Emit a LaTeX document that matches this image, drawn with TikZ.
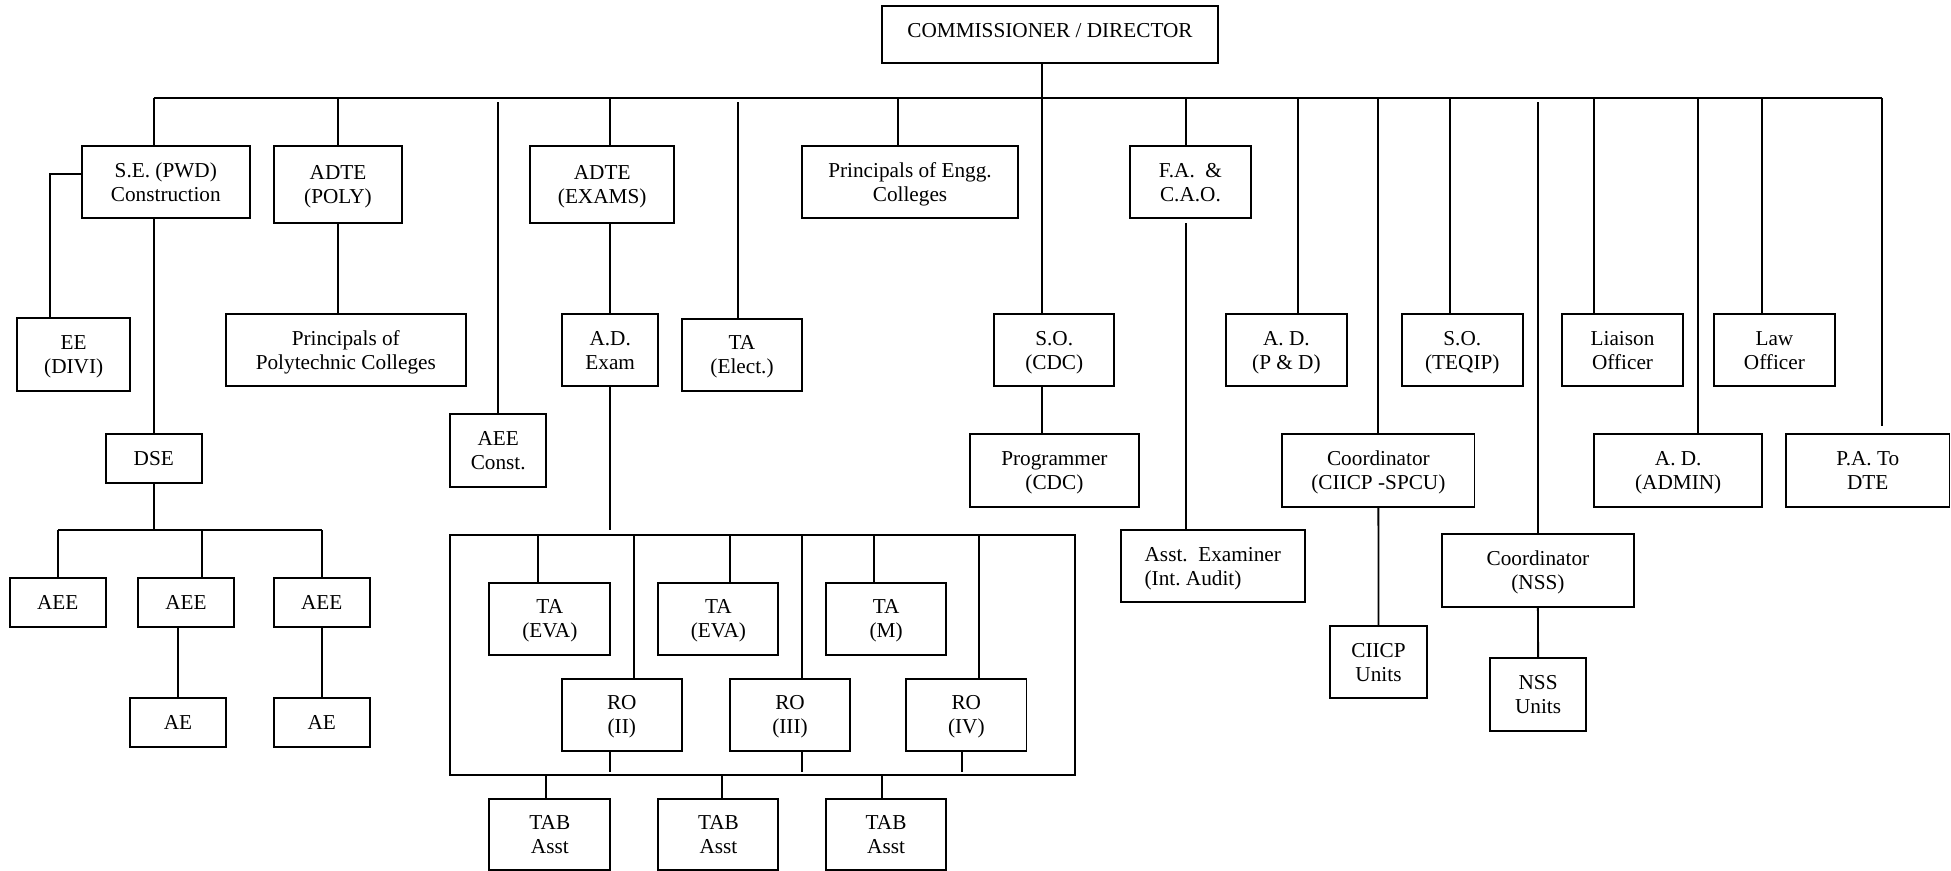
\documentclass[tikz,border=0pt]{standalone}
\usepackage{fontspec}
\setmainfont{Liberation Serif}

\tikzset{every picture/.style={line width=0.9pt}}
\tikzset{
  unitbox/.style={draw, line width=0.9pt, align=center, inner sep=0pt, text depth=0pt,
    font=\fontsize{10.2}{11.6}\selectfont},
  wh/.style 2 args={minimum width=#1*0.48pt, minimum height=#2*0.48pt},
  gapstart/.style={shorten <=1.9pt},
}

\begin{document}
\begin{tikzpicture}[x=0.48pt,y=0.48pt,yscale=-1,xscale=1]
\useasboundingbox (0,0) rectangle (1951,871);

% Head
\node[unitbox, wh={336.6}{57.3}, text depth=4.5pt] (comm) at (1050,34.7) {COMMISSIONER / DIRECTOR};

% First row
\node[unitbox, wh={168.3}{72.3}] (se) at (165.8,182.2) {S.E. (PWD)\\Construction};
\node[unitbox, wh={128.6}{76.7}] (poly) at (338,184.3) {ADTE\\(POLY)};
\node[unitbox, wh={144.3}{76.7}] (exams) at (602.2,184.3) {ADTE\\(EXAMS)};
\node[unitbox, wh={216.6}{72.3}] (pengg) at (910,182.2) {Principals of Engg.\\Colleges};
\node[unitbox, wh={120.7}{72.3}] (fa) at (1190.4,182.2) {F.A.\ \ \&\\C.A.O.};

% Second row
\node[unitbox, wh={112.7}{72.4}] (ee) at (73.7,354.5) {EE\\(DIVI)};
\node[unitbox, wh={240.3}{71.7}] (ppoly) at (345.8,350.2) {Principals of\\Polytechnic Colleges};
\node[unitbox, wh={96.3}{71.7}] (adexam) at (610.2,350.2) {A.D.\\Exam};
\node[unitbox, wh={120.6}{72}] (taelect) at (742,354.7) {TA\\(Elect.)};
\node[unitbox, wh={120.3}{71.7}] (socdc) at (1054.2,350.2) {S.O.\\(CDC)};
\node[unitbox, wh={120.7}{71.7}] (adpd) at (1286.4,350.2) {A. D.\\(P \& D)};
\node[unitbox, wh={120.8}{71.7}] (teqip) at (1462.3,350.2) {S.O.\\(TEQIP)};
\node[unitbox, wh={120.4}{71.7}] (liaison) at (1622.5,350.2) {Liaison\\Officer};
\node[unitbox, wh={120.7}{71.7}] (law) at (1774.4,350.2) {Law\\Officer};

% Third row
\node[unitbox, wh={96.3}{72.4}] (aeec) at (498.2,450.5) {AEE\\Const.};
\node[unitbox, wh={96.3}{48.7}] (dse) at (153.8,458.3) {DSE};
\node[unitbox, wh={168.7}{72.4}] (prog) at (1054.4,470.5) {Programmer\\(CDC)};
\node[unitbox, wh={192.2}{72.4}] (ciicp) at (1378.4,470.5) {Coordinator\\(CIICP -SPCU)};
\node[unitbox, wh={168.3}{72.4}] (admin) at (1678.2,470.5) {A. D.\\(ADMIN)};
\node[unitbox, wh={163.5}{72.4}] (pa) at (1867.75,470.5) {P.A. To\\DTE};

% Lower rows
\node[unitbox, align=left, wh={184.5}{72.3}, xshift=-1.5*0.48pt] (asstex) at (1214.3,566.2) {Asst.\ \ Examiner\\(Int.\ Audit)};
\node[unitbox, wh={191.6}{72.4}] (nss) at (1537.9,570.5) {Coordinator\\(NSS)};
\node[unitbox, wh={96.3}{48.4}] (aee1) at (57.8,602.5) {AEE};
\node[unitbox, wh={96.6}{48.4}] (aee2) at (186,602.5) {AEE};
\node[unitbox, wh={96.3}{48.4}] (aee3) at (321.8,602.5) {AEE};
\node[unitbox, wh={96.6}{72.3}] (ciicpu) at (1378.5,662.2) {CIICP\\Units};
\node[unitbox, wh={96.6}{72.4}] (nssu) at (1538.1,694.5) {NSS\\Units};
\node[unitbox, wh={96.6}{48.4}] (ae1) at (178,722.5) {AE};
\node[unitbox, wh={96.3}{48.4}] (ae2) at (321.8,722.5) {AE};

% Exam group
\node[unitbox, wh={624.9}{240.2}] (exgrp) at (762.3,654.9) {};
\node[unitbox, wh={120.8}{72.3}] (ta1) at (549.8,618.9) {TA\\(EVA)};
\node[unitbox, wh={120}{72.3}] (ta2) at (718.4,618.9) {TA\\(EVA)};
\node[unitbox, wh={120}{72.3}] (ta3) at (886.1,618.9) {TA\\(M)};
\node[unitbox, wh={120.4}{72}] (ro2) at (621.8,714.7) {RO\\(II)};
\node[unitbox, wh={120.4}{72}] (ro3) at (790,714.7) {RO\\(III)};
\node[unitbox, wh={120.4}{72}] (ro4) at (966.3,714.7) {RO\\(IV)};
\node[unitbox, wh={120.8}{70.7}] (tab1) at (549.8,834.4) {TAB\\Asst};
\node[unitbox, wh={120}{70.7}] (tab2) at (718.4,834.4) {TAB\\Asst};
\node[unitbox, wh={120}{70.7}] (tab3) at (886.1,834.4) {TAB\\Asst};

% Main bus and taps
\foreach \n/\x in {se/153.7, poly/337.7, exams/610, pengg/898.3, fa/1186.3, adpd/1298.3,
  ciicp/1378.3, teqip/1450.3, liaison/1594.3, admin/1698.3, law/1762.3}{
  \coordinate (t\n) at (\x,98.3);
  \draw (t\n) -- (t\n |- \n.north);
}
\foreach \n/\x in {aeec/498, taelect/738, nss/1538.3}{
  \coordinate (t\n) at (\x,98.3);
  \draw[gapstart] (t\n) -- (t\n |- \n.north);
}
\coordinate (tpa) at (1882.3,98.3);
\draw[shorten >=3.6pt] (tpa) -- (tpa |- pa.north);
\draw (tse) -- (tpa);
\coordinate (tcomm) at (1042.3,98.3);
\draw (tcomm |- comm.south) -- (tcomm |- socdc.north);

% Branches
\coordinate (eeknee) at (50,174.3);
\draw (eeknee -| se.west) -- (eeknee) -- (eeknee |- ee.north);
\draw (dse.north |- se.south) -- (dse.north);
\draw (tpoly |- poly.south) -- (tpoly |- ppoly.north);
\draw (adexam.north |- exams.south) -- (adexam.north);
\draw[shorten >=1.8pt] (adexam.south) -- (adexam.south |- exgrp.north);
\draw (tcomm |- socdc.south) -- (tcomm |- prog.north);
\draw[gapstart] (tfa |- fa.south) -- (tfa |- asstex.north);
\draw (ciicp.south) -- (ciicpu.north);
\draw (nss.south) -- (nssu.north);

% DSE sub-bus
\coordinate (aeebus) at (0,530);
\draw (aee1.north |- aeebus) -- (aee3.north |- aeebus);
\draw (dse.south) -- (dse.south |- aeebus);
\draw (aee1.north |- aeebus) -- (aee1.north);
\draw (aee3.north |- aeebus) -- (aee3.north);
\coordinate (taee2) at (201.7,530);
\draw (taee2) -- (taee2 |- aee2.north);
\draw (ae1.north |- aee2.south) -- (ae1.north);
\draw (aee3.south) -- (ae2.north);

% Exam group links
\foreach \n/\x in {ta1/538.4, ro2/634.3, ta2/730.2, ro3/802, ta3/873.9, ro4/978.8}{
  \coordinate (g\n) at (\x,534.8);
  \draw (g\n) -- (g\n |- \n.north);
}
\foreach \n/\x in {ro2/610.2, ro3/802, ro4/962}{
  \coordinate (s\n) at (\x,771.7);
  \draw (s\n |- \n.south) -- (s\n);
}
\foreach \n/\x in {tab1/546.1, tab2/721.6, tab3/882}{
  \coordinate (b\n) at (\x,775);
  \draw (b\n) -- (b\n |- \n.north);
}

\end{tikzpicture}
\end{document}
